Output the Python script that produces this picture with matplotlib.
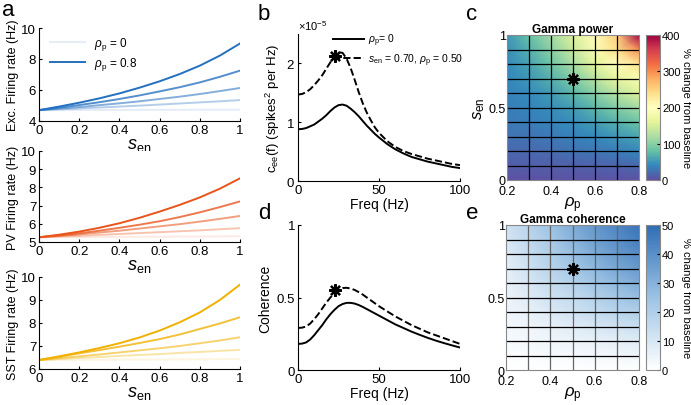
import numpy as np
import matplotlib
matplotlib.use('Agg')
import matplotlib.pyplot as plt
from matplotlib.colors import LinearSegmentedColormap

plt.rcParams['font.family'] = ['Liberation Sans', 'DejaVu Sans']
plt.rcParams['mathtext.fontset'] = 'custom'
plt.rcParams['mathtext.rm'] = 'Liberation Sans'
plt.rcParams['mathtext.it'] = 'Liberation Sans:italic'
plt.rcParams['mathtext.bf'] = 'Liberation Sans:bold'
plt.rcParams['font.size'] = 9
plt.rcParams['axes.linewidth'] = 0.8
plt.rcParams['xtick.direction'] = 'in'
plt.rcParams['ytick.direction'] = 'in'
plt.rcParams['xtick.major.size'] = 2.5
plt.rcParams['ytick.major.size'] = 2.5

# ---- data ----
s_en = [0, 0.1, 0.2, 0.3, 0.4, 0.5, 0.6, 0.7, 0.8, 0.9, 1.0]
rho_levels = [0, 0.2, 0.4, 0.6, 0.8]

exc_rates = [
    [4.70, 4.70, 4.71, 4.71, 4.71, 4.72, 4.72, 4.72, 4.73, 4.73, 4.73],
    [4.70, 4.75, 4.81, 4.87, 4.93, 4.99, 5.06, 5.13, 5.20, 5.27, 5.35],
    [4.70, 4.80, 4.90, 5.02, 5.14, 5.27, 5.42, 5.57, 5.74, 5.93, 6.13],
    [4.70, 4.86, 5.03, 5.21, 5.42, 5.65, 5.91, 6.18, 6.49, 6.85, 7.25],
    [4.70, 4.93, 5.18, 5.46, 5.78, 6.15, 6.56, 7.03, 7.57, 8.22, 9.00],
]
pv_rates = [
    [5.26, 5.27, 5.27, 5.28, 5.28, 5.29, 5.29, 5.30, 5.30, 5.31, 5.32],
    [5.26, 5.30, 5.34, 5.39, 5.44, 5.49, 5.54, 5.59, 5.64, 5.70, 5.76],
    [5.26, 5.34, 5.42, 5.52, 5.62, 5.74, 5.86, 5.98, 6.12, 6.27, 6.43],
    [5.26, 5.36, 5.48, 5.62, 5.78, 5.95, 6.14, 6.37, 6.63, 6.92, 7.23],
    [5.26, 5.40, 5.57, 5.78, 6.03, 6.33, 6.67, 7.04, 7.45, 7.93, 8.50],
]
sst_rates = [
    [6.39, 6.39, 6.40, 6.40, 6.41, 6.41, 6.41, 6.42, 6.42, 6.43, 6.43],
    [6.39, 6.43, 6.48, 6.52, 6.57, 6.61, 6.65, 6.70, 6.74, 6.79, 6.83],
    [6.39, 6.47, 6.55, 6.63, 6.72, 6.81, 6.90, 7.00, 7.12, 7.24, 7.38],
    [6.39, 6.53, 6.68, 6.82, 6.97, 7.13, 7.30, 7.50, 7.74, 7.98, 8.25],
    [6.39, 6.55, 6.72, 6.91, 7.12, 7.37, 7.67, 8.03, 8.46, 9.00, 9.67],
]

freq = [0, 2.5, 5, 7.5, 10, 12.5, 15, 17.5, 20, 22.5, 25, 27.5, 30, 32.5, 35, 37.5,
        40, 42.5, 45, 47.5, 50, 55, 60, 65, 70, 75, 80, 85, 90, 95, 100]
cee_base = [0.88, 0.885, 0.90, 0.93, 0.96, 1.01, 1.06, 1.12, 1.19, 1.25, 1.29, 1.30,
            1.28, 1.23, 1.17, 1.10, 1.02, 0.94, 0.87, 0.80, 0.74, 0.63, 0.54, 0.47,
            0.41, 0.37, 0.33, 0.30, 0.27, 0.24, 0.22]
cee_mod = [1.47, 1.48, 1.51, 1.56, 1.63, 1.71, 1.80, 1.91, 2.02, 2.12, 2.19, 2.18,
           2.08, 1.92, 1.72, 1.51, 1.32, 1.16, 1.03, 0.91, 0.82, 0.68, 0.58, 0.51,
           0.46, 0.42, 0.38, 0.35, 0.32, 0.29, 0.27]
coh_base = [0.18, 0.182, 0.19, 0.21, 0.24, 0.275, 0.31, 0.35, 0.385, 0.415, 0.44, 0.455,
            0.463, 0.463, 0.458, 0.448, 0.435, 0.42, 0.405, 0.39, 0.375, 0.345, 0.315,
            0.29, 0.265, 0.243, 0.222, 0.203, 0.186, 0.17, 0.155]
coh_mod = [0.29, 0.292, 0.30, 0.32, 0.35, 0.385, 0.425, 0.465, 0.50, 0.53, 0.553, 0.565,
           0.567, 0.562, 0.552, 0.537, 0.52, 0.50, 0.48, 0.46, 0.44, 0.405, 0.37, 0.34,
           0.31, 0.285, 0.26, 0.24, 0.22, 0.20, 0.18]
star_freq = 23
star_cee = 2.12
star_coh = 0.55

rho_grid = [0.2, 0.3, 0.4, 0.5, 0.6, 0.7, 0.8]
s_grid = [0, 0.1, 0.2, 0.3, 0.4, 0.5, 0.6, 0.7, 0.8, 0.9, 1.0]
gamma_power = [
    [2, 2, 2, 2, 2, 2, 2],
    [10, 11, 12, 13, 15, 17, 20],
    [18, 20, 22, 25, 29, 34, 40],
    [25, 28, 31, 36, 42, 50, 60],
    [30, 34, 38, 45, 55, 70, 85],
    [34, 38, 45, 56, 74, 97, 118],
    [37, 43, 54, 72, 100, 130, 155],
    [40, 50, 68, 95, 130, 165, 190],
    [43, 58, 85, 120, 160, 200, 235],
    [46, 68, 100, 140, 190, 240, 300],
    [50, 80, 118, 155, 205, 255, 400],
]
gamma_coh = [
    [0, 0, 0, 0, 0, 0, 0],
    [1, 1, 2, 2, 3, 3, 4],
    [2, 3, 4, 5, 6, 7, 8],
    [3, 4, 6, 8, 10, 12, 14],
    [4, 6, 9, 12, 15, 18, 20],
    [5, 8, 12, 15, 19, 23, 26],
    [6, 10, 15, 19, 24, 28, 32],
    [7, 12, 18, 23, 28, 33, 37],
    [8, 14, 20, 26, 32, 37, 41],
    [10, 16, 22, 29, 35, 40, 45],
    [12, 18, 25, 32, 38, 43, 48],
]
star_rho, star_s = 0.5, 0.7

W, H = 691, 406
fig = plt.figure(figsize=(W / 100, H / 100), dpi=100)


def box(x0, y0, x1, y1):
    return [x0 / W, 1 - y1 / H, (x1 - x0) / W, (y1 - y0) / H]


sen_label = r'$s_{\mathrm{en}}$'
rho_label = r'$\rho_{\mathrm{p}}$'
star_mk = dict(marker=(8, 2, 0), ms=9, mew=1.6, color='k', ls='none')

# ---- panel a ----
a_specs = [
    (box(39, 29, 240, 122), exc_rates, '#2470c0', (4, 10), [4, 6, 8, 10], 'Exc. Firing rate (Hz)'),
    (box(39, 152, 240, 243), pv_rates, '#e8541a', (5, 10), [5, 6, 7, 8, 9, 10], 'PV Firing rate (Hz)'),
    (box(39, 278, 240, 370), sst_rates, '#efb000', (6, 10), [6, 7, 8, 9, 10], 'SST Firing rate (Hz)'),
]
for i, (rect, rates, col, ylim, yt, ylab) in enumerate(a_specs):
    ax = fig.add_axes(rect)
    for j, rho in enumerate(rho_levels):
        alpha = 0.12 + 0.88 * j / (len(rho_levels) - 1)
        ax.plot(s_en, rates[j], color=col, alpha=alpha, lw=1.4,
                label=r'$\rho_{\mathrm{p}}$ = %g' % rho)
    ax.set_xlim(0, 1)
    ax.set_ylim(*ylim)
    ax.set_yticks(yt)
    ax.set_xticks([0, 0.2, 0.4, 0.6, 0.8, 1])
    ax.set_xticklabels(['0', '0.2', '0.4', '0.6', '0.8', '1'])
    ax.spines['top'].set_visible(False)
    ax.spines['right'].set_visible(False)
    ax.set_ylabel(ylab, fontsize=9, labelpad=2)
    ax.set_xlabel(sen_label, fontsize=13, labelpad=0)
    ax.tick_params(labelsize=9.5, pad=2)
    if i == 0:
        hs, ls = ax.get_legend_handles_labels()
        ax.legend([hs[0], hs[-1]], [ls[0], ls[-1]], frameon=False, fontsize=8.5,
                  loc='upper left', bbox_to_anchor=(0.0, 1.04), handlelength=3.0,
                  labelspacing=0.3)

# ---- panel b ----
freq_a = np.array(freq)
axb = fig.add_axes(box(298, 35, 460, 182))
axb.plot(freq_a, np.array(cee_base) * 1e-5, 'k-', lw=1.4, label=r'$\rho_{\mathrm{p}}$= 0')
axb.plot(freq_a, np.array(cee_mod) * 1e-5, 'k--', lw=1.4,
         label=r'$s_{\mathrm{en}}$ = 0.70, $\rho_{\mathrm{p}}$ = 0.50')
axb.plot([star_freq], [star_cee * 1e-5], **star_mk)
axb.set_xlim(0, 100)
axb.set_ylim(0, 2.5e-5)
axb.set_yticks([0, 1e-5, 2e-5])
axb.set_xticks([0, 50, 100])
axb.ticklabel_format(axis='y', style='sci', scilimits=(0, 0), useMathText=True)
axb.yaxis.get_offset_text().set_fontsize(8)
axb.spines['top'].set_visible(False)
axb.spines['right'].set_visible(False)
axb.tick_params(labelsize=9.5, pad=2)
axb.set_xlabel('Freq (Hz)', fontsize=10, labelpad=1)
axb.set_ylabel(r'c$_{\mathrm{ee}}$(f) (spikes$^2$ per Hz)', fontsize=9.5, labelpad=3)
axb.legend(frameon=False, fontsize=7.5, loc='upper right', bbox_to_anchor=(1.08, 1.08),
           handlelength=3.0, labelspacing=0.3, handletextpad=0.4)

# ---- panel d ----
axd = fig.add_axes(box(298, 226, 460, 371))
axd.plot(freq_a, coh_base, 'k-', lw=1.4)
axd.plot(freq_a, coh_mod, 'k--', lw=1.4)
axd.plot([star_freq], [star_coh], **star_mk)
axd.set_xlim(0, 100)
axd.set_ylim(0, 1)
axd.set_yticks([0, 0.5, 1])
axd.set_yticklabels(['0', '0.5', '1'])
axd.set_xticks([0, 50, 100])
axd.spines['top'].set_visible(False)
axd.spines['right'].set_visible(False)
axd.tick_params(labelsize=9.5, pad=2)
axd.set_xlabel('Freq (Hz)', fontsize=10, labelpad=1)
axd.set_ylabel('Coherence', fontsize=10, labelpad=3)

# ---- heatmaps ----
coh_cmap = LinearSegmentedColormap.from_list('wb', ['#ffffff', '#9cc3e4', '#2f6db5'])
heat_specs = [
    (box(507, 36, 639, 181), box(646, 36, 660, 181), gamma_power, 'Spectral_r', 400,
     [0, 100, 200, 300, 400], 'Gamma power', 'k', 'k', True),
    (box(506, 226, 639, 371), box(646, 226, 660, 371), gamma_coh, coh_cmap, 50,
     [0, 10, 20, 30, 40, 50], 'Gamma coherence', '#666666', 'k', False),
]
for rect, crect, vals, cmap, vmax, cticks, title, vcol, hcol, show_ylab in heat_specs:
    ax = fig.add_axes(rect)
    X, Y = np.meshgrid(rho_grid, s_grid)
    pm = ax.pcolormesh(X, Y, np.array(vals), cmap=cmap, vmin=0, vmax=vmax, shading='gouraud')
    for r in rho_grid[1:-1]:
        ax.axvline(r, color=vcol, lw=0.9)
    for s in s_grid[1:-1]:
        ax.axhline(s, color=hcol, lw=0.9)
    ax.plot([star_rho], [star_s], **star_mk)
    ax.set_xlim(0.2, 0.8)
    ax.set_ylim(0, 1)
    ax.set_xticks([0.2, 0.4, 0.6, 0.8])
    ax.set_yticks([0, 0.5, 1])
    ax.set_yticklabels(['0', '0.5', '1'])
    ax.tick_params(length=0, labelsize=9, pad=1)
    ax.tick_params(axis='x', pad=3.5)
    for sp in ax.spines.values():
        sp.set_color('#888888')
    ax.set_title(title, fontsize=8.5, fontweight='bold', pad=2)
    ax.set_xlabel(rho_label, fontsize=12, labelpad=-2)
    if show_ylab:
        ax.set_ylabel(sen_label, fontsize=12, labelpad=1)
    cax = fig.add_axes(crect)
    cb = fig.colorbar(pm, cax=cax, ticks=cticks)
    cb.outline.set_edgecolor('#888888')
    cax.tick_params(labelsize=8, direction='in', length=2, pad=1.5)
    fig.text(686 / W, crect[1] + crect[3] / 2, '% change from baseline', fontsize=8,
             rotation=270, ha='center', va='center')

# ---- panel letters ----
for letter, x, y in [('a', 2, 11), ('b', 258, 14), ('c', 466, 14), ('d', 258, 214), ('e', 466, 214)]:
    fig.text(x / W, 1 - y / H, letter, fontsize=16, va='center', ha='left')

fig.savefig('out.png', dpi=100)
